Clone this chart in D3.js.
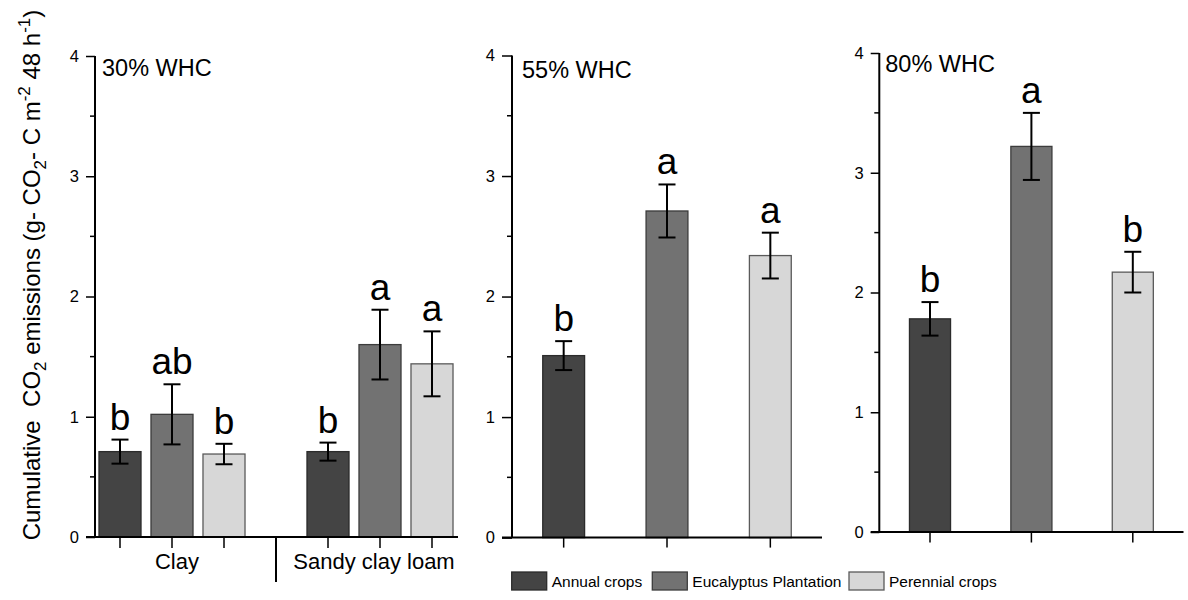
<!DOCTYPE html>
<html>
<head>
<meta charset="utf-8">
<script src="https://cdn.jsdelivr.net/npm/d3@7"></script>
<style>
  html, body { margin: 0; padding: 0; background: #fff; }
  svg { display: block; font-family: "Liberation Sans", Arial, Helvetica, sans-serif; }
</style>
</head>
<body>
<svg id="chart" width="1188" height="600"></svg>
<script>
// ---------- data ----------
const series = ["Annual crops", "Eucalyptus Plantation", "Perennial crops"];
const soils = ["Clay", "Sandy clay loam"];
const yTicks = [0, 1, 2, 3, 4];

// 30% WHC panel (per soil)
const whc30Clay = [0.71, 1.02, 0.69];
const whc30ClayErr = [0.10, 0.25, 0.085];
const whc30ClayLetters = ["b", "ab", "b"];
const whc30Sandy = [0.71, 1.60, 1.44];
const whc30SandyErr = [0.075, 0.29, 0.27];
const whc30SandyLetters = ["b", "a", "a"];

// 55% WHC panel
const whc55 = [1.51, 2.71, 2.34];
const whc55Err = [0.12, 0.22, 0.19];
const whc55Letters = ["b", "a", "a"];

// 80% WHC panel
const whc80 = [1.78, 3.22, 2.17];
const whc80Err = [0.14, 0.28, 0.17];
const whc80Letters = ["b", "a", "b"];

const panelTitles = ["30% WHC", "55% WHC", "80% WHC"];

// ---------- styles ----------
const fills = ["#444444", "#727272", "#d7d7d7"];
const strokes = ["#2b2b2b", "#3c3c3c", "#5a5a5a"];
const color = d3.scaleOrdinal().domain(series).range(fills);
const strokeC = d3.scaleOrdinal().domain(series).range(strokes);

const svg = d3.select("#chart");

function drawYAxis(g, y, x0, tickLen, minorLen) {
  const minors = d3.range(0.5, 4, 1);
  g.selectAll(null).data(minors).enter().append("line")
    .attr("x1", x0 - minorLen).attr("x2", x0)
    .attr("y1", d => y(d)).attr("y2", d => y(d))
    .attr("stroke", "#000").attr("stroke-width", 1.5);
  const ax = d3.axisLeft(y).tickValues(yTicks).tickSize(tickLen).tickPadding(7).tickFormat(d3.format("d"));
  const a = g.append("g").attr("transform", `translate(${x0},0)`).call(ax);
  a.select(".domain").attr("stroke-width", 2).attr("d", `M-0,${y(0)}V${y(4)}`);
  a.selectAll(".tick line").attr("stroke-width", 1.5);
  a.selectAll(".tick text").attr("font-size", 16.5).attr("font-family", "Liberation Sans, Arial, sans-serif").attr("fill", "#000");
}

function drawBars(g, items, y, capW, letterSize) {
  g.selectAll(null).data(items).enter().append("rect")
    .attr("x", d => d.cx - d.w / 2).attr("width", d => d.w)
    .attr("y", d => y(d.v)).attr("height", d => y(0) - y(d.v))
    .attr("fill", d => color(d.s)).attr("stroke", d => strokeC(d.s)).attr("stroke-width", 1.3);
  const eb = g.selectAll(null).data(items).enter().append("g").attr("stroke", "#000").attr("stroke-width", 2);
  eb.append("line").attr("x1", d => d.cx).attr("x2", d => d.cx).attr("y1", d => y(d.v + d.e)).attr("y2", d => y(d.v - d.e));
  eb.append("line").attr("x1", d => d.cx - capW / 2).attr("x2", d => d.cx + capW / 2).attr("y1", d => y(d.v + d.e)).attr("y2", d => y(d.v + d.e));
  eb.append("line").attr("x1", d => d.cx - capW / 2).attr("x2", d => d.cx + capW / 2).attr("y1", d => y(d.v - d.e)).attr("y2", d => y(d.v - d.e));
  g.selectAll(null).data(items).enter().append("text")
    .attr("x", d => d.cx).attr("y", d => y(d.v + d.e) - 10)
    .attr("text-anchor", "middle").attr("font-size", letterSize).attr("fill", "#000")
    .text(d => d.letter);
}

// ---------- Panel 1 : 30% WHC ----------
{
  const g = svg.append("g");
  const y = d3.scaleLinear().domain([0, 4]).range([537, 56]);
  const xg = d3.scaleBand().domain(soils).range([68, 484]);
  const xs = d3.scaleBand().domain(series).range([-78, 78]).paddingInner(0.192).paddingOuter(0.096);
  const axisX = 95;
  const vals = [whc30Clay, whc30Sandy], errs = [whc30ClayErr, whc30SandyErr], lets = [whc30ClayLetters, whc30SandyLetters];
  const items = [];
  soils.forEach((soil, gi) => series.forEach((s, si) => {
    items.push({ cx: xg(soil) + xg.bandwidth() / 2 + xs(s) + xs.bandwidth() / 2, w: xs.bandwidth(), v: vals[gi][si], e: errs[gi][si], s, letter: lets[gi][si] });
  }));
  drawBars(g, items, y, 17, 37);
  g.append("line").attr("x1", axisX - 9).attr("x2", 458).attr("y1", y(0)).attr("y2", y(0)).attr("stroke", "#000").attr("stroke-width", 2);
  g.selectAll(null).data(items).enter().append("line")
    .attr("x1", d => d.cx).attr("x2", d => d.cx).attr("y1", y(0)).attr("y2", y(0) + 11)
    .attr("stroke", "#000").attr("stroke-width", 1.5);
  g.append("line").attr("x1", xg("Sandy clay loam")).attr("x2", xg("Sandy clay loam"))
    .attr("y1", y(0)).attr("y2", y(0) + 45).attr("stroke", "#000").attr("stroke-width", 2);
  g.selectAll(null).data(soils).enter().append("text")
    .attr("x", (d, i) => xg(d) + xg.bandwidth() / 2 + (i === 0 ? 5 : -6))
    .attr("y", 569).attr("text-anchor", "middle").attr("font-size", 22).text(d => d);
  drawYAxis(g, y, axisX, 9, 5);
  g.append("text").attr("x", axisX + 7).attr("y", 76).attr("font-size", 23.5).text(panelTitles[0]);
}

// ---------- Panels 2 & 3 ----------
function simplePanel(opts) {
  const g = svg.append("g");
  const y = d3.scaleLinear().domain([0, 4]).range([opts.y0, opts.y4]);
  const x = d3.scaleBand().domain(series).range([opts.axisX, opts.xEnd]).paddingInner(0.595).paddingOuter(0.2975);
  const items = series.map((s, i) => ({ cx: x(s) + x.bandwidth() / 2, w: x.bandwidth(), v: opts.vals[i], e: opts.errs[i], s, letter: opts.lets[i] }));
  drawBars(g, items, y, 17, 37);
  g.append("line").attr("x1", opts.axisX - opts.tick).attr("x2", opts.xEnd).attr("y1", y(0)).attr("y2", y(0)).attr("stroke", "#000").attr("stroke-width", 2);
  g.selectAll(null).data(items).enter().append("line")
    .attr("x1", d => d.cx).attr("x2", d => d.cx).attr("y1", y(0)).attr("y2", y(0) + opts.xTick)
    .attr("stroke", "#000").attr("stroke-width", 1.5);
  drawYAxis(g, y, opts.axisX, opts.tick, 5);
  g.append("text").attr("x", opts.axisX + opts.titleDx).attr("y", opts.titleY).attr("font-size", 23.5).text(opts.title);
}

simplePanel({ y0: 537.6, y4: 55.5, axisX: 512, xEnd: 822, tick: 10, xTick: 10, vals: whc55, errs: whc55Err, lets: whc55Letters, title: panelTitles[1], titleDx: 10, titleY: 78 });
simplePanel({ y0: 532, y4: 53, axisX: 879.3, xEnd: 1183.5, tick: 8.6, xTick: 10.5, vals: whc80, errs: whc80Err, lets: whc80Letters, title: panelTitles[2], titleDx: 6, titleY: 72 });

// ---------- Y axis title ----------
{
  const t = svg.append("text")
    .attr("transform", "translate(40,275) rotate(-90)")
    .attr("text-anchor", "middle").attr("font-size", 24).attr("fill", "#000")
    .attr("xml:space", "preserve");
  const parts = [
    { t: "Cumulative  CO" },
    { t: "2", sub: true },
    { t: " emissions (g- CO" },
    { t: "2", sub: true },
    { t: "- C m" },
    { t: "-2", sup: true },
    { t: " 48 h" },
    { t: "-1", sup: true },
    { t: ")" }
  ];
  let shift = 0;
  parts.forEach(p => {
    const target = p.sub ? 6 : p.sup ? -10 : 0;
    t.append("tspan").attr("dy", target - shift).attr("font-size", (p.sub || p.sup) ? 17 : 24).text(p.t);
    shift = target;
  });
}

// ---------- Legend ----------
{
  const lg = svg.append("g");
  const legendX = d3.scaleOrdinal().domain(series).range([511.7, 652.3, 849]);
  const items = lg.selectAll(null).data(series).enter().append("g")
    .attr("transform", d => `translate(${legendX(d)},572)`);
  items.append("rect").attr("width", 35).attr("height", 18)
    .attr("fill", d => color(d)).attr("stroke", d => strokeC(d)).attr("stroke-width", 1.3);
  items.append("text").attr("x", 40).attr("y", 15).attr("font-size", 15.5).text(d => d);
}
</script>
</body>
</html>
